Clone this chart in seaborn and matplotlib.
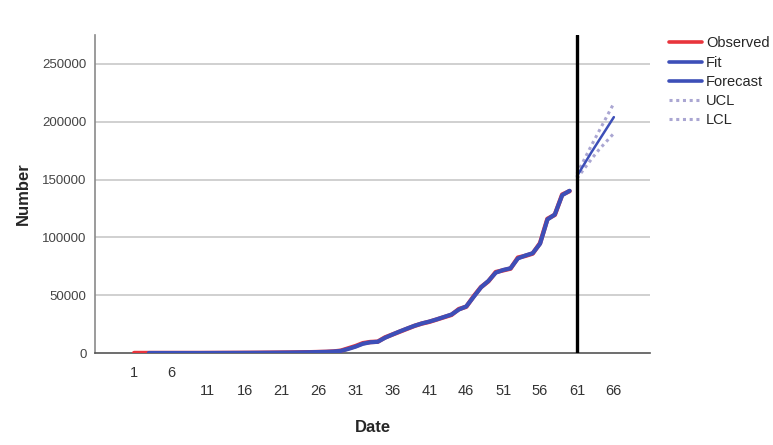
import matplotlib
matplotlib.use("Agg")
import matplotlib.pyplot as plt
import seaborn as sns
import pandas as pd

# observed cumulative counts, days 1..60
obs_days = list(range(1, 61))
observed = [0, 0, 0, 0, 0, 0, 0, 0, 0, 0,
            20, 40, 60, 80, 100, 130, 160, 200, 250, 300,
            360, 420, 500, 600, 700, 850, 1000, 1300, 2000, 4000,
            6000, 8500, 9500, 9800, 13500, 16000, 18500, 21000, 23500, 25500,
            27000, 29000, 31000, 33000, 38000, 40000, 49000, 57000, 62000, 70000,
            71500, 73000, 82500, 84000, 86000, 95000, 116000, 119500, 137000, 140000]

# model fit, days 3..60
fit_days = list(range(3, 61))
fit = [0, 0, 0, 0, 0, 0, 0, 0,
       20, 40, 60, 80, 100, 130, 160, 200, 250, 300,
       360, 420, 500, 600, 700, 850, 1000, 1300, 1800, 3500,
       5500, 8000, 9300, 9700, 13200, 16000, 18700, 21200, 23600, 25600,
       27200, 29100, 31200, 33300, 37600, 40300, 48500, 56800, 62300, 69500,
       71800, 73300, 81800, 84300, 86300, 94500, 115500, 119800, 136500, 140300]

# forecast with confidence limits, days 61..66
fc_days = [61, 62, 63, 64, 65, 66]
forecast = [153000, 163500, 174000, 184000, 194000, 204000]
ucl = [155000, 167500, 180000, 192000, 204000, 216000]
lcl = [151000, 159500, 168000, 176000, 183000, 190000]

tick_top = [1, 6]
tick_bottom = [11, 16, 21, 26, 31, 36, 41, 46, 51, 56, 61, 66]
y_ticks = [0, 50000, 100000, 150000, 200000, 250000]

df_obs = pd.DataFrame({"Date": obs_days, "Number": observed})
df_fit = pd.DataFrame({"Date": fit_days, "Number": fit})
df_fc = pd.DataFrame({"Date": fc_days, "Forecast": forecast, "UCL": ucl, "LCL": lcl})

sns.set_style("white")
plt.rcParams["font.family"] = ["Liberation Sans", "DejaVu Sans"]

fig = plt.figure(figsize=(7.73, 4.45), dpi=100)
ax = fig.add_axes([0.1229, 0.2067, 0.718, 0.7146])

red = "#e8343c"
blue = "#3d4fb8"
lilac = "#aaa6d2"

# grid lines first
for v in y_ticks[1:]:
    ax.axhline(v, color="#c4c4c4", lw=1.1, zorder=0)

sns.lineplot(data=df_obs, x="Date", y="Number", color=red, lw=3.2, ax=ax,
             label="Observed", zorder=3)
sns.lineplot(data=df_fit, x="Date", y="Number", color=blue, lw=3.0, ax=ax,
             label="Fit", zorder=4)
sns.lineplot(data=df_fc, x="Date", y="Forecast", color=blue, lw=1.8, ax=ax,
             label="Forecast", zorder=4)
sns.lineplot(data=df_fc, x="Date", y="UCL", color=lilac, lw=2.2, ax=ax,
             label="UCL", linestyle=(0, (1, 1.2)), zorder=3)
sns.lineplot(data=df_fc, x="Date", y="LCL", color=lilac, lw=2.2, ax=ax,
             label="LCL", linestyle=(0, (1, 1.2)), zorder=3)

ax.axvline(61, color="black", lw=2.4, zorder=5)

ax.set_xlim(-4.3, 70.9)
ax.set_ylim(0, 275000)

ax.set_yticks(y_ticks)
ax.set_yticklabels([str(v) for v in y_ticks])
ax.tick_params(axis="y", length=0, pad=6, labelsize=9.5, labelcolor="#444444")

# staggered date labels
ax.set_xticks(tick_top)
ax.set_xticklabels([str(t) for t in tick_top])
ax.set_xticks(tick_bottom, minor=True)
ax.set_xticklabels([str(t) for t in tick_bottom], minor=True)
ax.tick_params(axis="x", which="major", length=0, pad=9, labelsize=10.5, labelcolor="#333333")
ax.tick_params(axis="x", which="minor", length=0, pad=22, labelsize=10.5, labelcolor="#333333")

ax.set_xlabel("Date", fontsize=12, fontweight="bold", labelpad=16)
ax.set_ylabel("Number", fontsize=12, fontweight="bold", labelpad=8)

for side in ["top", "right"]:
    ax.spines[side].set_visible(False)
ax.spines["left"].set_color("#8a8a8a")
ax.spines["bottom"].set_color("#555555")
ax.spines["left"].set_linewidth(1.2)
ax.spines["bottom"].set_linewidth(1.2)

handles, labels = ax.get_legend_handles_labels()
ax.get_legend().remove()
leg = fig.legend(handles, labels, loc="upper left", bbox_to_anchor=(0.866, 0.918),
                 frameon=False, fontsize=10.5, handlelength=2.2, handletextpad=0.3,
                 labelspacing=0.36, borderaxespad=0, borderpad=0)
for line in leg.get_lines()[:3]:
    line.set_linewidth(2.6)

fig.savefig("out.png", dpi=100)
plt.close(fig)
